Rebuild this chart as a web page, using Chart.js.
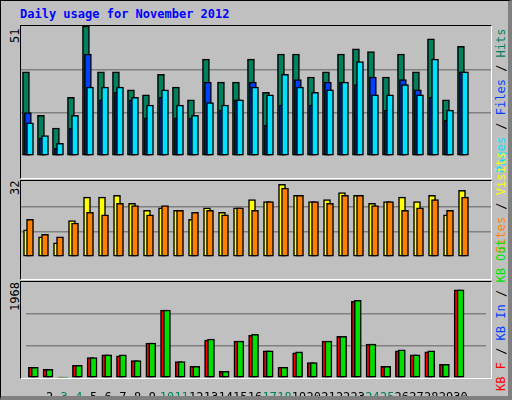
<!DOCTYPE html>
<html><head><meta charset="utf-8">
<script src="https://cdn.jsdelivr.net/npm/chart.js@4"></script>
<style>
body{margin:0;background:#fff}
#f{position:absolute;left:0;top:0;width:507px;height:395px;background:#C0C0C0;border-top:1px solid #000;border-left:1px solid #000;border-right:4px solid #808080;border-bottom:4px solid #808080;font-family:"DejaVu Sans Mono",monospace;overflow:hidden}
.p{position:absolute;left:19px;width:470px;border:1.5px solid #000;border-right-color:#fff;border-bottom-color:#fff}
canvas{position:absolute}
.t{position:absolute;left:19px;top:6px;color:#0000FF;font-weight:bold;font-size:12px}
.yl{position:absolute;font-size:12px;transform-origin:0 0;transform:rotate(-90deg);white-space:nowrap;line-height:14px}
</style></head><body>
<div id="f">
<div class="t">Daily usage for November 2012</div>
<div class="p" style="top:24px;height:152px"></div>
<div class="p" style="top:179px;height:98px"></div>
<div class="p" style="top:280px;height:96px"></div>
<div class="yl" style="left:7px;top:42px">51</div>
<div class="yl" style="left:7px;top:194px">32</div>
<div class="yl" style="left:7px;top:310px">1968</div>
<div class="yl" style="left:493px;top:172px"><span style="color:#00E0FF">Pages</span> / <span style="color:#0040FF">Files</span> / <span style="color:#00805C">Hits</span></div>
<div class="yl" style="left:493px;top:252px"><span style="color:#FF8000">Sites</span> / <span style="color:#FFFF00">Visits</span></div>
<div class="yl" style="left:493px;top:390px"><span style="color:#FF0000">KB F</span> / <span style="color:#0040FF">KB In</span> / <span style="color:#00E000">KB Out</span></div>
<canvas id="c1" width="470" height="152" style="left:20px;top:25px"></canvas>
<canvas id="c2" width="470" height="98" style="left:20px;top:180px"></canvas>
<canvas id="c3" width="470" height="118" style="left:20px;top:281px"></canvas>
</div>
<script>
const days=[1,2,3,4,5,6,7,8,9,10,11,12,13,14,15,16,17,18,19,20,21,22,23,24,25,26,27,28,29,30,31];
const weekend=[3,4,10,11,17,18,24,25,31];
const hits=[33,16,11,23,51,33,33,26,24,32,27,22,38,29,29,38,25,40,40,31,33,40,42,41,31,40,33,46,22,43,0];
const files=[17,7,3,11,40,22,25,22,15,23,15,15,29,18,22,29,12,20,30,20,29,29,28,31,18,30,26,23,14,33,0];
const pages=[13,8,5,16,27,27,27,23,20,26,20,16,21,20,22,27,24,32,27,25,26,29,37,24,24,28,24,38,18,33,0];
const visits=[11.4,8.5,6,15.3,25.2,25.2,26,22.6,19.7,20.7,19.7,15.9,20.7,18.8,20.7,24.2,23.3,30.6,26,23.3,24.2,27.1,26,22.6,23.3,25.2,23.3,26,17.8,28.1,0];
const sites=[15.9,9.5,8.5,14.3,18.8,17.8,22.6,21.7,17.8,21.7,19.7,18.8,19.7,17.8,20.7,19.7,23.3,29,26,23.3,22.6,26,26,21.7,23.3,19.7,20.7,24.2,19.7,25.2,0];
const kbF=[219,179,20,259,418,477,457,358,716,1392,338,239,776,139,756,875,557,219,517,318,756,855,1571,696,239,557,477,537,278,1810,0];
const kbOut=[219,179,20,259,418,477,477,358,716,1392,338,239,796,139,756,895,557,219,537,318,756,855,1591,696,239,577,477,557,278,1810,0];
const yMax=[51,32,1968];

const XMIN=0.4, XMAX=31.733;
function ds(vals,color,off,ord){return {data:days.map((d,i)=>({x:d+off,y:vals[i]})),backgroundColor:color,borderColor:'#000',borderWidth:1.5,borderSkipped:false,barThickness:7,grouped:false,order:ord};}
function mk(id,sets,max,showX){
  new Chart(document.getElementById(id),{type:'bar',data:{datasets:sets},
  options:{responsive:false,animation:false,events:[],devicePixelRatio:1,layout:{padding:0},
   plugins:{legend:{display:false},tooltip:{enabled:false}},
   scales:{
    x:{type:'linear',min:XMIN,max:XMAX,display:showX,offset:false,
       grid:{display:false},border:{display:false},
       afterFit:s=>{s.height=22;},
       ticks:{stepSize:1,autoSkip:false,maxRotation:0,padding:5,font:{family:'DejaVu Sans Mono',size:12},
         callback:v=>Number.isInteger(v)&&v>=1&&v<=31?String(v):'',
         color:c=>weekend.includes(c.tick.value)?'#00805C':'#000'}},
    y:{min:0,max:max,display:true,ticks:{display:false,stepSize:max/3},
       grid:{color:c=>c.index===1||c.index===2?'#808080':'rgba(0,0,0,0)',lineWidth:1.5,drawTicks:false},border:{display:false}}
   }}});
}
mk('c1',[ds(hits,'#00805C',-0.27,3),ds(files,'#0040FF',-0.14,2),ds(pages,'#00E0FF',0,1)],yMax[0],false);
mk('c2',[ds(visits,'#FFFF00',-0.2,2),ds(sites,'#FF8000',0,1)],yMax[1],false);
mk('c3',[ds(kbF,'#FF0000',-0.2,2),ds(kbOut,'#00E000',0,1)],yMax[2],true);
</script></body></html>
